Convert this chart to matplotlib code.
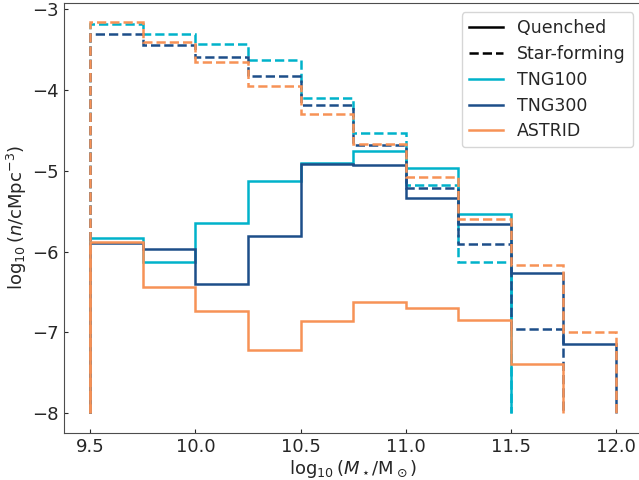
import matplotlib
matplotlib.use("Agg")
import matplotlib.pyplot as plt
from matplotlib.lines import Line2D
import numpy as np

# bin edges in log10 stellar mass
edges = np.arange(9.5, 12.01, 0.25)

# log10 number density per bin (series stop where the bins are empty)
tng100_q = [-5.83, -6.13, -5.65, -5.13, -4.90, -4.75, -4.96, -5.54]
tng100_sf = [-3.18, -3.30, -3.425, -3.63, -4.10, -4.53, -5.18, -6.13]
tng300_q = [-5.89, -5.97, -6.40, -5.81, -4.91, -4.93, -5.34, -5.66, -6.27, -7.14]
tng300_sf = [-3.31, -3.44, -3.59, -3.82, -4.19, -4.68, -5.21, -5.90, -6.96]
astrid_q = [-5.88, -6.44, -6.74, -7.22, -6.86, -6.62, -6.70, -6.85, -7.39]
astrid_sf = [-3.16, -3.40, -3.65, -3.95, -4.29, -4.67, -5.07, -5.59, -6.16, -6.99]

sims = ["TNG100", "TNG300", "ASTRID"]
colors = {"TNG100": "#00b2ca", "TNG300": "#1d4e89", "ASTRID": "#f79256"}
data = {
    "TNG100": (tng100_q, tng100_sf),
    "TNG300": (tng300_q, tng300_sf),
    "ASTRID": (astrid_q, astrid_sf),
}

plt.rcParams["font.size"] = 13
plt.rcParams["text.color"] = "#262626"
plt.rcParams["axes.labelcolor"] = "#262626"
plt.rcParams["xtick.color"] = "#262626"
plt.rcParams["ytick.color"] = "#262626"

fig = plt.figure(figsize=(6.39, 4.8), dpi=100)
ax = fig.add_axes([64 / 639, 1 - 432.7 / 480, (642.3 - 64) / 639, (432.7 - 2.7) / 480])

lw = 1.8
for s in sims:
    q, sf = data[s]
    ax.stairs(q, edges[:len(q) + 1], baseline=-8, color=colors[s], lw=lw)
    ax.stairs(sf, edges[:len(sf) + 1], baseline=-8, color=colors[s], lw=lw, ls="--")

ax.set_xlim(9.375, 12.125)
ax.set_ylim(-8.242, -2.918)
ax.set_xticks([9.5, 10.0, 10.5, 11.0, 11.5, 12.0])
ax.set_yticks([-8, -7, -6, -5, -4, -3])
ax.tick_params(direction="in", length=3, width=0.8, labelsize=13, pad=4)
for sp in ax.spines.values():
    sp.set_color("0.3")

ax.set_xlabel(r"$\log_{10}(M_\star/\mathrm{M}_\odot)$", fontsize=13, labelpad=1)
ax.set_ylabel(r"$\log_{10}(n/\mathrm{cMpc}^{-3})$", fontsize=13, labelpad=2)

handles = [
    Line2D([], [], color="k", lw=lw, label="Quenched"),
    Line2D([], [], color="k", lw=lw, ls="--", label="Star-forming"),
] + [Line2D([], [], color=colors[s], lw=lw, label=s) for s in sims]
ax.legend(handles=handles, loc="upper right", fontsize=12.5, labelspacing=0.45,
          bbox_to_anchor=(0.993, 0.99), borderaxespad=0.3)

fig.savefig("out.png", dpi=100)
